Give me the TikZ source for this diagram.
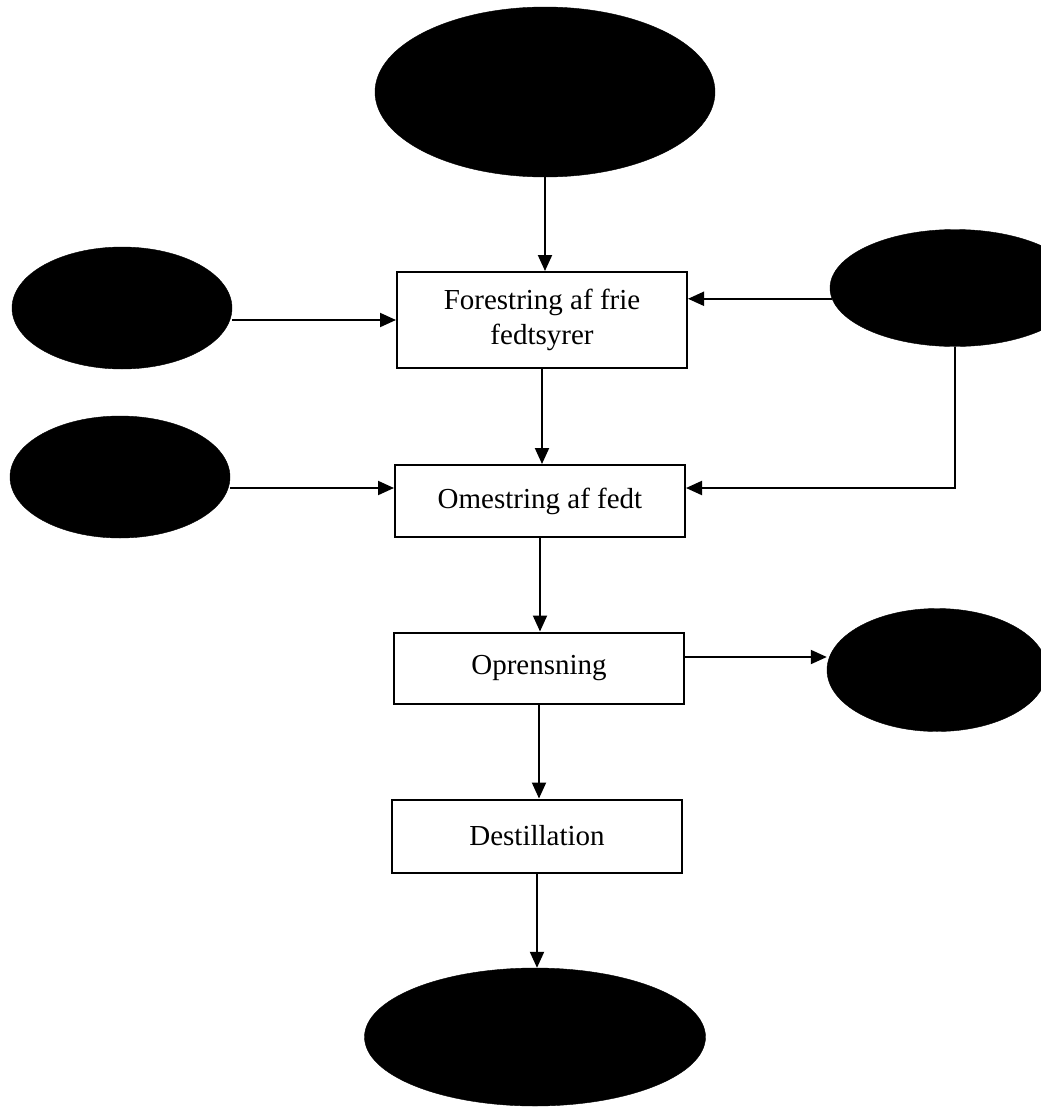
\documentclass[tikz,border=0pt]{standalone}
\usepackage{fontspec}
\setmainfont{Liberation Serif}
\usetikzlibrary{shapes.geometric,arrows.meta}
\begin{document}
\begin{tikzpicture}[x=1pt,y=-1pt,
  blob/.style={ellipse,fill=black,draw=black,inner sep=0pt},
  stepbox/.style={rectangle,draw=black,line width=2pt,minimum width=290pt,inner sep=0pt,align=center,font=\fontsize{29}{35}\selectfont},
  arr/.style={line width=2pt,-{Triangle[length=16pt,width=14pt]}},
  plain/.style={line width=2pt}]
\clip (0,0) rectangle (1041,1109);
\useasboundingbox (0,0) rectangle (1041,1109);
\fill[white] (0,0) rectangle (1041,1109);
% ellipses
\node[blob,minimum width=340pt,minimum height=170pt] (top) at (545,92) {};
\node[blob,minimum width=220pt,minimum height=122pt] (l1) at (122,308) {};
\node[blob,minimum width=220pt,minimum height=122pt] (l2) at (120,477) {};
\node[blob,minimum width=250pt,minimum height=117pt] (r1) at (955,288) {};
\node[blob,minimum width=220pt,minimum height=123pt] (r3) at (937,670) {};
\node[blob,minimum width=341pt,minimum height=138pt] (bot) at (535,1037) {};
% boxes
\node[stepbox,minimum height=96pt] (b1) at (542,320) {Forestring af frie\\fedtsyrer};
\node[stepbox,minimum height=72pt] (b2) at (540,501) {Omestring af fedt};
\node[stepbox,minimum height=71pt] (b3) at (539,668) {Oprensning};
\node[stepbox,minimum height=73pt] (b4) at (537,836) {Destillation};
% connectors
\draw[arr] (top.south) -- (top.south |- b1.north);
\draw[arr] (l1.east |- b1.west) -- (b1.west);
\draw[arr] (r1.185) -- (r1.185 -| b1.east);
\draw[arr] (b1.south) -- (b1.south |- b2.north);
\coordinate (b2in) at ([yshift=13pt]b2.west);
\coordinate (b2inr) at ([yshift=13pt]b2.east);
\draw[arr] (b2in -| l2.east) -- (b2in);
\draw[arr] (r1.south) |- (b2inr);
\draw[arr] (b2.south) -- (b2.south |- b3.north);
\coordinate (b3out) at ([yshift=11pt]b3.east);
\draw[arr] (b3out) -- (b3out -| r3.west);
\draw[arr] (b3.south) -- (b3.south |- b4.north);
\draw[arr] (b4.south) -- (b4.south |- bot.north);
\end{tikzpicture}
\end{document}
